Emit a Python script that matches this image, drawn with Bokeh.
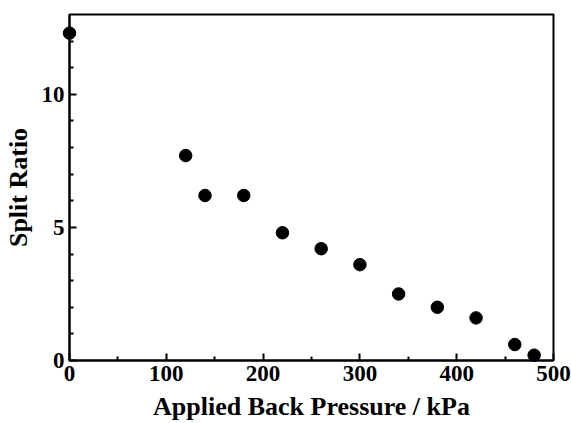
from bokeh.plotting import figure
from bokeh.models import Range1d, FixedTicker
from bokeh.embed import file_html
from bokeh.resources import INLINE

pressure = [0, 120, 140, 180, 220, 260, 300, 340, 380, 420, 460, 480]
split_ratio = [12.3, 7.7, 6.2, 6.2, 4.8, 4.2, 3.6, 2.5, 2.0, 1.6, 0.6, 0.2]
x_ticks = [0, 100, 200, 300, 400, 500]
x_minor = [50, 150, 250, 350, 450]
y_ticks = [0, 5, 10]
y_minor = [1, 2, 3, 4, 6, 7, 8, 9, 11, 12]

FONT = "Liberation Serif"

p = figure(width=571, height=423, output_backend="svg", toolbar_location=None,
           x_range=Range1d(0, 500), y_range=Range1d(0, 13),
           min_border_left=68, min_border_right=18, min_border_top=14, min_border_bottom=63)
p.background_fill_color = "white"
p.border_fill_color = "white"
p.grid.visible = False
p.outline_line_color = "black"
p.outline_line_width = 2

r = p.scatter(pressure, split_ratio, size=12.5, color="black")
r.level = "overlay"

p.xaxis.ticker = FixedTicker(ticks=x_ticks, minor_ticks=x_minor)
p.yaxis.ticker = FixedTicker(ticks=y_ticks, minor_ticks=y_minor)

for ax in (p.xaxis[0], p.yaxis[0]):
    ax.axis_line_width = 2
    ax.axis_line_color = "black"
    ax.major_tick_in = 7
    ax.major_tick_out = 0
    ax.minor_tick_in = 4
    ax.minor_tick_out = 0
    ax.major_tick_line_width = 2
    ax.minor_tick_line_width = 2
    ax.major_label_text_font = FONT
    ax.major_label_text_font_style = "bold"
    ax.major_label_text_font_size = "23px"
    ax.major_label_text_color = "black"
    ax.axis_label_text_font = FONT
    ax.axis_label_text_font_style = "bold"
    ax.axis_label_text_font_size = "26px"
    ax.axis_label_text_color = "black"

p.xaxis.axis_label = "Applied Back Pressure / kPa"
p.yaxis.axis_label = "Split Ratio"
p.xaxis.major_label_standoff = 5
p.yaxis.major_label_standoff = 5
p.xaxis.axis_label_standoff = 8
p.yaxis.axis_label_standoff = 6

open("out.html", "w").write(file_html(p, INLINE))
